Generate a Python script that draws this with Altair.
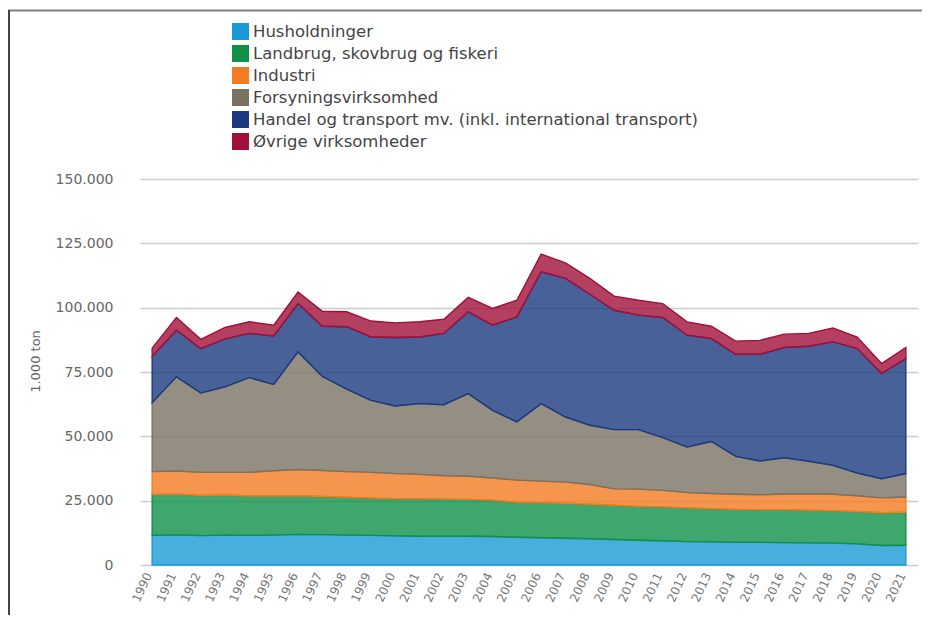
import altair as alt
import pandas as pd

years = list(range(1990, 2022))

series_names = [
    "Husholdninger",
    "Landbrug, skovbrug og fiskeri",
    "Industri",
    "Forsyningsvirksomhed",
    "Handel og transport mv. (inkl. international transport)",
    "Øvrige virksomheder",
]

# values in 1.000 ton
husholdninger = [11500, 11700, 11400, 11600, 11500, 11600, 11900, 11800, 11600, 11500, 11300, 11200, 11200, 11200, 11100, 10800,
                 10600, 10400, 10200, 9900, 9600, 9400, 9100, 9000, 8800, 8800, 8700, 8600, 8500, 8200, 7600, 7700]
landbrug = [15900, 15900, 15600, 15600, 15300, 15200, 15000, 14800, 14700, 14500, 14500, 14500, 14400, 14300, 14100, 13600,
            13600, 13600, 13400, 13300, 13200, 13200, 13100, 12900, 12800, 12700, 12800, 12700, 12600, 12600, 12700, 12800]
industri = [8900, 8900, 9000, 8800, 9200, 9800, 10200, 10100, 10000, 10000, 9700, 9500, 9100, 9000, 8600, 8600,
            8400, 8200, 7700, 6400, 6700, 6400, 6000, 5900, 5900, 5800, 6100, 6400, 6400, 6100, 5800, 5900]
forsyning = [26800, 36600, 30800, 33200, 36800, 33600, 45700, 36600, 32000, 28000, 26300, 27500, 27600, 32100, 26300, 22600,
             30100, 25300, 23000, 23000, 23100, 20500, 17600, 20200, 14700, 13100, 14100, 12600, 11200, 8800, 7400, 9100]
handel = [17900, 18100, 17300, 18700, 17200, 18800, 18800, 19500, 24300, 24600, 26600, 25900, 27700, 31800, 33100, 40800,
          51200, 53900, 50900, 46400, 44500, 46700, 43500, 40000, 39700, 41500, 42800, 44700, 48000, 48400, 40900, 44700]
ovrige = [3300, 5000, 3600, 4400, 4500, 4200, 4500, 5800, 5800, 6200, 5700, 5900, 5500, 5600, 6500, 6500,
          6900, 6000, 6200, 5500, 5800, 5400, 5200, 4800, 5100, 5400, 5200, 5000, 5400, 4500, 3900, 4300]

y_ticks = [0, 25000, 50000, 75000, 100000, 125000, 150000]

colors = ["#1A9AD6", "#0F9148", "#F47B20", "#7A7364", "#1B3A80", "#A0103A"]

all_series = [husholdninger, landbrug, industri, forsyning, handel, ovrige]
rows = []
for i, (name, vals) in enumerate(zip(series_names, all_series)):
    for yr, v in zip(years, vals):
        rows.append({"year": yr, "series": name, "idx": i, "value": v})
df = pd.DataFrame(rows)

font = "DejaVu Sans"

color_scale = alt.Scale(domain=series_names, range=colors)

areas = alt.Chart(df).mark_area(fillOpacity=0.8, strokeWidth=1.4, strokeOpacity=1).encode(
    x=alt.X("year:Q", scale=alt.Scale(domain=[1989.5, 2021.5], nice=False, zero=False),
            axis=alt.Axis(values=years, format="d", title=None, labelAngle=-65, labelAlign="right",
                          labelBaseline="middle", labelFontSize=12, labelColor="#777777", labelFont=font,
                          labelPadding=8, labelOffset=-4, ticks=False, domain=False, grid=False,
                          labelOverlap=False)),
    y=alt.Y("value:Q", stack="zero", scale=alt.Scale(domain=[0, 150000], nice=False),
            axis=alt.Axis(values=y_ticks, title="1.000 ton", titleFont=font, titleFontSize=13,
                          titleFontWeight="normal", titleColor="#666666", titleX=-98, titleY=182,
                          labelExpr="replace(format(datum.value, ',d'), ',', '.')",
                          labelFont=font, labelFontSize=14, labelColor="#666666", labelPadding=27,
                          ticks=False, domain=False, grid=True, gridColor="#CCCCCC", gridWidth=1.5)),
    color=alt.Color("series:N", scale=color_scale, sort=series_names,
                    legend=alt.Legend(title=None, orient="none", legendX=92, legendY=-156,
                                      symbolType="square", symbolSize=289, symbolStrokeWidth=0,
                                      symbolOpacity=1, labelFont=font, labelFontSize=16.5,
                                      labelColor="#444444", rowPadding=5, labelOffset=4, padding=0,
                                      labelLimit=700)),
    stroke=alt.Stroke("series:N", scale=color_scale, legend=None),
    order=alt.Order("idx:Q", sort="ascending"),
)

frame_top = alt.Chart(alt.Data(values=[{"a": 1}])).mark_rect(color="#808080", strokeWidth=0).encode(
    x=alt.value(-132), x2=alt.value(900), y=alt.value(-169.5), y2=alt.value(-167.5)
)
frame_left = alt.Chart(alt.Data(values=[{"a": 1}])).mark_rule(color="#444444", strokeWidth=2).encode(
    x=alt.value(-131), y=alt.value(-169), y2=alt.value(436)
)

chart = alt.layer(areas, frame_top, frame_left).properties(
    width=778, height=386,
    autosize=alt.AutoSizeParams(type="none"),
    padding={"left": 132, "top": 171, "right": 4, "bottom": 50},
).configure(background="white", view=alt.ViewConfig(stroke=None))

chart.save("out.html", embed_options={"renderer": "svg", "actions": False})
